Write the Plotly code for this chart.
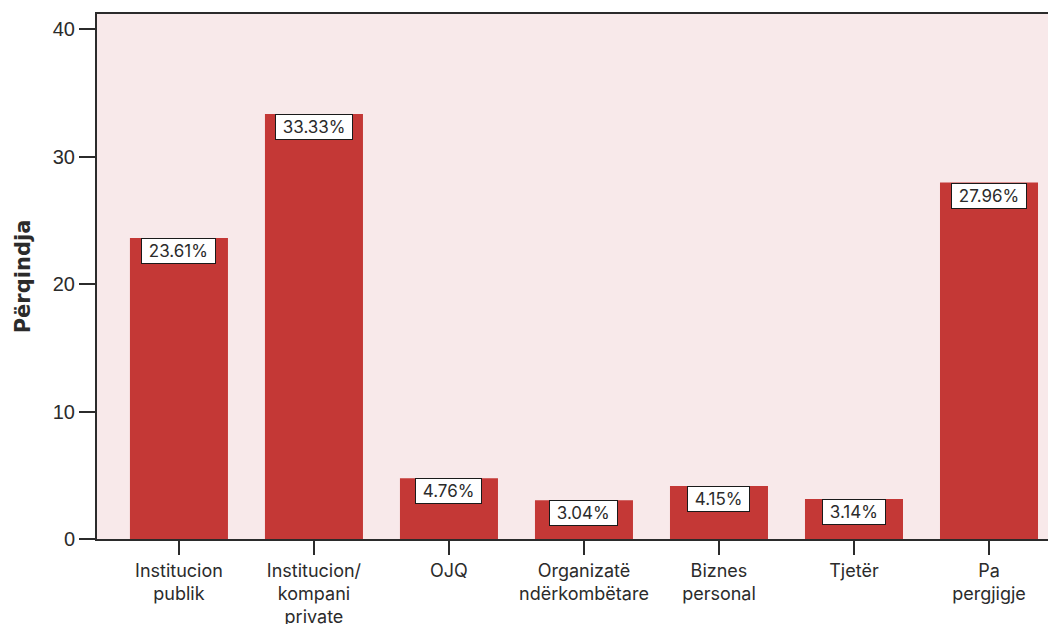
import plotly.graph_objects as go

categories = [
    "Institucion<br>publik",
    "Institucion/<br>kompani<br>private",
    "OJQ",
    "Organizatë<br>ndërkombëtare",
    "Biznes<br>personal",
    "Tjetër",
    "Pa<br>pergjigje",
]
values = [23.61, 33.33, 4.76, 3.04, 4.15, 3.14, 27.96]
value_labels = ["23.61%", "33.33%", "4.76%", "3.04%", "4.15%", "3.14%", "27.96%"]

BAR = "#c43836"
BG = "#f8e9ea"
INK = "#2b2b2b"
FONT = "Inter, Open Sans, sans-serif"

idx = list(range(len(categories)))

fig = go.Figure(
    go.Bar(
        x=idx,
        y=values,
        marker=dict(color=BAR, line=dict(width=0)),
        hoverinfo="skip",
    )
)

# boxed value labels sitting just inside the top of each bar
for i, v, lab in zip(idx, values, value_labels):
    fig.add_annotation(
        x=i, y=v, text="\u00a0" + lab + "\u00a0", showarrow=False,
        yanchor="top", xanchor="center", yshift=0,
        font=dict(family=FONT, size=17, color=INK),
        bgcolor="white", bordercolor="#1a1a1a", borderwidth=1, borderpad=2,
    )

fig.update_layout(
    width=1048, height=624,
    margin=dict(l=97, r=0, t=14, b=85),
    paper_bgcolor="white",
    plot_bgcolor=BG,
    bargap=0.274,
    showlegend=False,
    xaxis=dict(
        tickmode="array", tickvals=idx, ticktext=categories,
        range=[-0.607, 6.437],
        automargin=False,
        showgrid=False, zeroline=False,
        showline=True, linecolor=INK, linewidth=2, mirror=True,
        ticks="outside", ticklen=14, tickwidth=2, tickcolor=INK,
        tickfont=dict(family=FONT, size=18, color=INK),
    ),
    yaxis=dict(
        range=[0, 41.18],
        tickvals=[0, 10, 20, 30, 40],
        automargin=False,
        showgrid=False, zeroline=False,
        showline=True, linecolor=INK, linewidth=2, mirror=True,
        ticks="outside", ticklen=16, tickwidth=2, tickcolor=INK,
        tickfont=dict(family="Liberation Sans, Arial, sans-serif", size=20, color=INK),
        title=dict(text="<b>Përqindja</b>", standoff=16,
                   font=dict(family="DejaVu Sans, sans-serif", size=21, color=INK)),
    ),
)

fig.write_html("out.html")
